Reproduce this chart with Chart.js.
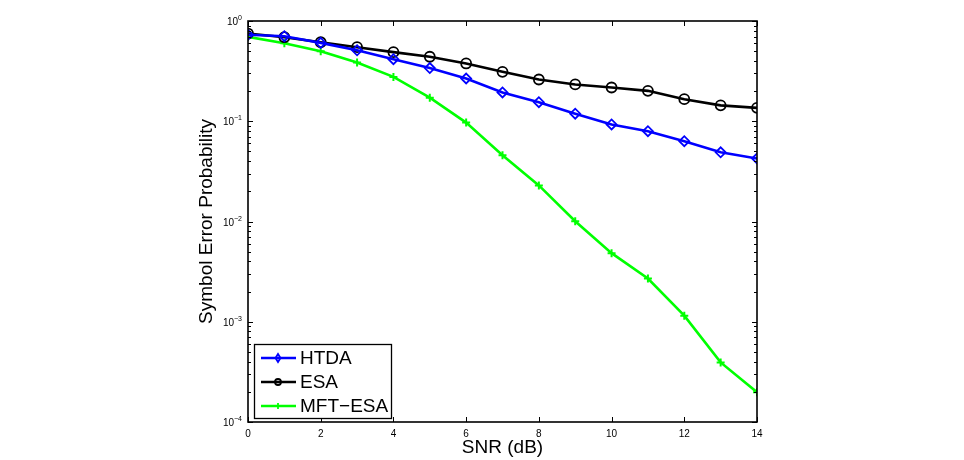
<!DOCTYPE html>
<html>
<head>
<meta charset="utf-8">
<script src="https://cdn.jsdelivr.net/npm/chart.js@4/dist/chart.umd.min.js"></script>
<style>
  html, body { margin: 0; padding: 0; background: #fff; }
  #wrap { width: 964px; height: 460px; position: relative; }
</style>
</head>
<body>
<div id="wrap"><canvas id="c" width="964" height="460"></canvas></div>
<script>
const snr = [0, 1, 2, 3, 4, 5, 6, 7, 8, 9, 10, 11, 12, 13, 14];
const htda = [0.73, 0.705, 0.605, 0.51, 0.416, 0.339, 0.267, 0.194, 0.155, 0.119, 0.093, 0.0796, 0.0633, 0.049, 0.0425];
const esa = [0.75, 0.689, 0.614, 0.548, 0.489, 0.44, 0.377, 0.311, 0.261, 0.233, 0.217, 0.201, 0.166, 0.144, 0.136];
const mftEsa = [0.695, 0.601, 0.5, 0.385, 0.277, 0.172, 0.097, 0.0459, 0.0229, 0.01006, 0.00483, 0.0027, 0.00115, 0.000393, 0.000198];
const seriesNames = ['HTDA', 'ESA', 'MFT\u2212ESA'];
const xTicks = [0, 2, 4, 6, 8, 10, 12, 14];
const yExponents = [0, -1, -2, -3, -4];
const xTitle = 'SNR (dB)';
const yTitle = 'Symbol Error Probability';

const FONT = '"Liberation Sans", Arial, Helvetica, sans-serif';

function pts(ys) { return snr.map((x, i) => ({ x: x, y: ys[i] })); }

// Inward box ticks + frame + custom y labels with superscripts
const boxPlugin = {
  id: 'boxPlugin',
  afterDraw(chart) {
    const ctx = chart.ctx;
    const a = chart.chartArea;
    const xs = chart.scales.x, ys = chart.scales.y;
    ctx.save();
    ctx.strokeStyle = '#000';
    ctx.lineWidth = 1;
    // x ticks top & bottom
    xTicks.forEach(v => {
      const px = Math.round(xs.getPixelForValue(v)) + 0.5;
      ctx.beginPath();
      ctx.moveTo(px, a.bottom); ctx.lineTo(px, a.bottom - 5);
      ctx.moveTo(px, a.top); ctx.lineTo(px, a.top + 5);
      ctx.stroke();
    });
    // y ticks (major + minor) left & right
    for (let e = -4; e <= 0; e++) {
      for (let m = 1; m <= 9; m++) {
        const v = m * Math.pow(10, e);
        if (v > 1.0000001) break;
        const py = Math.round(ys.getPixelForValue(v)) + 0.5;
        const len = m === 1 ? 5 : 3;
        ctx.beginPath();
        ctx.moveTo(a.left, py); ctx.lineTo(a.left + len, py);
        ctx.moveTo(a.right, py); ctx.lineTo(a.right - len, py);
        ctx.stroke();
      }
    }
    // frame
    ctx.lineWidth = 1.6;
    ctx.strokeRect(a.left, a.top, a.right - a.left, a.bottom - a.top);
    // y labels
    ctx.fillStyle = '#000';
    ctx.textBaseline = 'alphabetic';
    yExponents.forEach(e => {
      const py = ys.getPixelForValue(Math.pow(10, e));
      const exp = e === 0 ? '0' : '\u2212' + Math.abs(e);
      ctx.font = '7px ' + FONT;
      const ew = ctx.measureText(exp).width;
      const xr = a.left - 6;
      ctx.textAlign = 'right';
      ctx.fillText(exp, xr, py - 1);
      ctx.font = '10px ' + FONT;
      ctx.fillText('10', xr - ew, py + 4);
    });
    // legend
    const lx = a.left + 6, ly = a.bottom - 78, lw = 137, lh = 74;
    ctx.fillStyle = '#fff';
    ctx.fillRect(lx, ly, lw, lh);
    ctx.lineWidth = 1.3;
    ctx.strokeStyle = '#000';
    ctx.strokeRect(lx + 0.5, ly + 0.5, lw, lh);
    chart.data.datasets.forEach((ds, i) => {
      const cy = ly + 14 + i * 24;
      ctx.strokeStyle = ds.borderColor;
      ctx.lineWidth = 2.5;
      ctx.beginPath();
      ctx.moveTo(lx + 7, cy); ctx.lineTo(lx + 42, cy);
      ctx.stroke();
      ctx.lineWidth = 1.8;
      ctx.beginPath();
      const mx = lx + 24;
      if (ds.pointStyle === 'rectRot') {
        ctx.moveTo(mx, cy - 4); ctx.lineTo(mx + 2.5, cy); ctx.lineTo(mx, cy + 4); ctx.lineTo(mx - 2.5, cy); ctx.closePath();
      } else if (ds.pointStyle === 'circle') {
        ctx.arc(mx, cy, 3, 0, Math.PI * 2);
      } else {
        ctx.moveTo(mx - 3, cy); ctx.lineTo(mx + 3, cy);
        ctx.moveTo(mx, cy - 3); ctx.lineTo(mx, cy + 3);
      }
      ctx.stroke();
      ctx.fillStyle = '#000';
      ctx.font = '19px ' + FONT;
      ctx.textAlign = 'left';
      ctx.textBaseline = 'middle';
      ctx.fillText(ds.label, lx + 46, cy + 1);
    });
    ctx.restore();
  }
};

new Chart(document.getElementById('c'), {
  type: 'line',
  data: {
    datasets: [
      { label: seriesNames[0], data: pts(htda), borderColor: '#0000ff', backgroundColor: 'rgba(0,0,0,0)',
        borderWidth: 2.6, pointStyle: 'rectRot', pointRadius: 5, pointBorderWidth: 1.8, pointBorderColor: '#0000ff', pointBackgroundColor: 'rgba(0,0,0,0)' },
      { label: seriesNames[1], data: pts(esa), borderColor: '#000000', backgroundColor: 'rgba(0,0,0,0)',
        borderWidth: 2.6, pointStyle: 'circle', pointRadius: 5, pointBorderWidth: 1.8, pointBorderColor: '#000000', pointBackgroundColor: 'rgba(0,0,0,0)' },
      { label: seriesNames[2], data: pts(mftEsa), borderColor: '#00ff00', backgroundColor: 'rgba(0,0,0,0)',
        borderWidth: 2.6, pointStyle: 'cross', pointRadius: 4, pointBorderWidth: 2, pointBorderColor: '#00ff00', pointBackgroundColor: 'rgba(0,0,0,0)' }
    ]
  },
  options: {
    responsive: false,
    animation: false,
    devicePixelRatio: 1,
    layout: { padding: { left: 188, right: 207, top: 21, bottom: 0 } },
    plugins: { legend: { display: false }, tooltip: { enabled: false } },
    scales: {
      x: {
        type: 'linear', min: 0, max: 14,
        afterBuildTicks(scale) { scale.ticks = xTicks.map(v => ({ value: v })); },
        afterFit(scale) { scale.height = 38; },
        grid: { display: false, drawTicks: false },
        border: { display: false },
        ticks: { color: '#000', font: { family: FONT, size: 10 }, padding: 6, maxRotation: 0 },
        title: { display: true, text: xTitle, color: '#000', font: { family: FONT, size: 19 }, padding: { top: 0, bottom: 1 } }
      },
      y: {
        type: 'logarithmic', min: 1e-4, max: 1,
        afterFit(scale) { scale.width = 60; },
        grid: { display: false, drawTicks: false },
        border: { display: false },
        ticks: { display: false },
        title: { display: true, text: yTitle, color: '#000', font: { family: FONT, size: 19 }, padding: { top: 7, bottom: 0 } }
      }
    }
  },
  plugins: [boxPlugin]
});
</script>
</body>
</html>
